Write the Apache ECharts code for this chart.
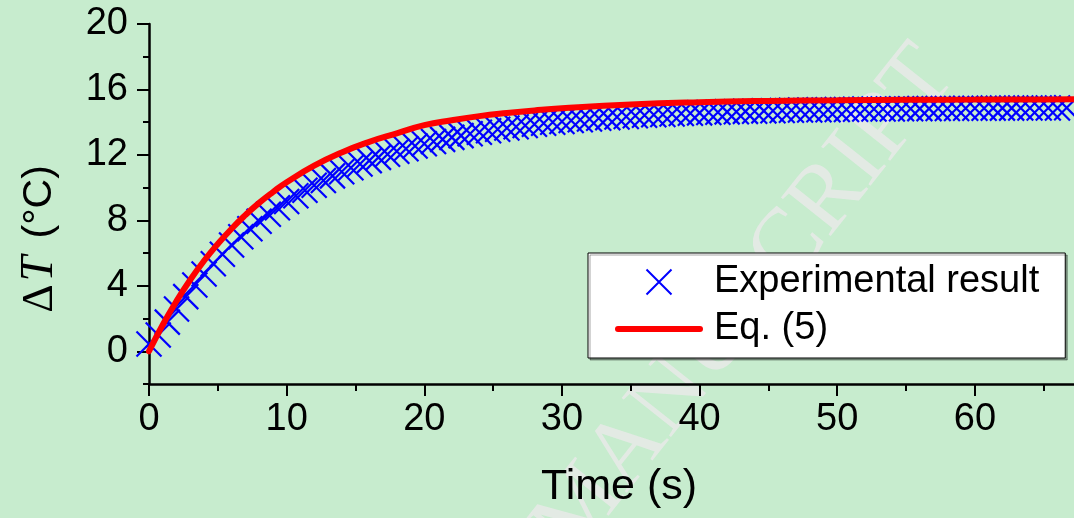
<!DOCTYPE html>
<html>
<head>
<meta charset="utf-8">
<script src="https://cdn.jsdelivr.net/npm/echarts@6/dist/echarts.min.js"></script>
<style>
  html, body { margin: 0; padding: 0; background: #c7ecce; }
  #chart { width: 1074px; height: 518px; }
</style>
</head>
<body>
<div id="chart"></div>
<script>
// Measured temperature rise (ΔT, °C) against time (s)
const timeSec = [
  0, 0.67, 1.33, 2, 2.67, 3.33, 4, 4.67, 5.33, 6, 6.67, 7.33, 8, 8.67, 9.33, 10,
  10.67, 11.33, 12, 12.67, 13.33, 14, 14.67, 15.33, 16, 16.67, 17.33, 18, 18.67, 19.33, 20,
  20.67, 21.33, 22, 22.67, 23.33, 24, 24.67, 25.33, 26, 26.67, 27.33, 28, 28.67, 29.33, 30,
  30.67, 31.33, 32, 32.67, 33.33, 34, 34.67, 35.33, 36, 36.67, 37.33, 38, 38.67, 39.33, 40,
  40.67, 41.33, 42, 42.67, 43.33, 44, 44.67, 45.33, 46, 46.67, 47.33, 48, 48.67, 49.33, 50,
  50.67, 51.33, 52, 52.67, 53.33, 54, 54.67, 55.33, 56, 56.67, 57.33, 58, 58.67, 59.33, 60,
  60.67, 61.33, 62, 62.67, 63.33, 64, 64.67, 65.33, 66, 66.67, 67.33
];
const measuredDeltaT = [
  0.45, 1.00, 1.78, 2.58, 3.34, 4.05, 4.72, 5.35, 5.93, 6.49, 7.00, 7.49, 7.95, 8.37, 8.77, 9.15,
  9.50, 9.84, 10.15, 10.44, 10.72, 10.97, 11.21, 11.44, 11.65, 11.85, 12.04, 12.22, 12.38, 12.54, 12.68,
  12.82, 12.95, 13.07, 13.18, 13.29, 13.39, 13.48, 13.57, 13.65, 13.72, 13.80, 13.87, 13.93, 13.99, 14.04,
  14.10, 14.15, 14.19, 14.24, 14.28, 14.32, 14.35, 14.39, 14.42, 14.45, 14.47, 14.50, 14.53, 14.55, 14.57,
  14.59, 14.61, 14.63, 14.64, 14.66, 14.67, 14.69, 14.70, 14.71, 14.73, 14.74, 14.75, 14.76, 14.76, 14.77,
  14.78, 14.79, 14.80, 14.80, 14.81, 14.81, 14.82, 14.82, 14.83, 14.83, 14.84, 14.84, 14.84, 14.85, 14.85,
  14.85, 14.86, 14.86, 14.86, 14.87, 14.87, 14.87, 14.87, 14.87, 14.88, 14.88
];

// Model curve, Eq. (5)
const eqTime = [0, 1, 2, 3, 4, 5, 6, 7, 8, 9, 10, 12, 14, 16, 18, 20, 22, 24, 26, 28, 30, 35, 40, 45, 50, 55, 60, 65, 70];
const eqDeltaT = [0, 1.62, 3.07, 4.37, 5.53, 6.56, 7.49, 8.32, 9.07, 9.73, 10.33, 11.34, 12.15, 12.80, 13.32,
  13.82, 14.12, 14.37, 14.56, 14.72, 14.85, 15.08, 15.22, 15.30, 15.34, 15.37, 15.38, 15.39, 15.40];

// Axis ticks
const xTicks = [0, 10, 20, 30, 40, 50, 60];
const xMinorTicks = [5, 15, 25, 35, 45, 55, 65];
const yTicks = [0, 4, 8, 12, 16, 20];
const yMinorTicks = [-2, 2, 6, 10, 14, 18];

const SANS = "'Liberation Sans', Arial, Helvetica, sans-serif";
const SERIF = "'Liberation Serif', 'Times New Roman', serif";
const BG = '#c7ecce';

const measuredPoints = timeSec.map((t, i) => [t, measuredDeltaT[i]]);
const eqPoints = eqTime.map((t, i) => [t, eqDeltaT[i]]);

const X_MIN = 0, X_MAX = 67.2, Y_MIN = -2, Y_MAX = 20;

// X-shaped marker and a thick round-capped bar for the legend line
const CROSS = 'path://M0,0L25,25M25,0L0,25';
const THICK_LINE = 'path://M3,0H85A3,3 0 0 1 85,6H3A3,3 0 0 1 3,0Z';

const chart = echarts.init(document.getElementById('chart'), null, { renderer: 'canvas' });

const baseX = {
  type: 'value', min: X_MIN, max: X_MAX, position: 'bottom', splitLine: { show: false }
};
const baseY = {
  type: 'value', min: Y_MIN, max: Y_MAX, position: 'left', splitLine: { show: false }
};

chart.setOption({
  animation: false,
  backgroundColor: BG,
  grid: { left: 149, right: 0, top: 24, bottom: 134, containLabel: false },
  xAxis: [
    Object.assign({}, baseX, {
      axisLine: { onZero: false, lineStyle: { color: '#000', width: 2.5 } },
      axisTick: { customValues: xTicks, length: 12, lineStyle: { color: '#000', width: 2 } },
      axisLabel: { customValues: xTicks, margin: 17, color: '#000', fontFamily: SANS, fontSize: 38 },
      name: 'Time (s)',
      nameLocation: 'middle',
      nameGap: 82,
      nameTextStyle: { color: '#000', fontFamily: SANS, fontSize: 43, padding: [0, 0, 0, 15] }
    }),
    Object.assign({}, baseX, {
      axisLine: { show: false, onZero: false },
      axisTick: { customValues: xMinorTicks, length: 7, lineStyle: { color: '#000', width: 2 } },
      axisLabel: { show: false }
    })
  ],
  yAxis: [
    Object.assign({}, baseY, {
      axisLine: { onZero: false, lineStyle: { color: '#000', width: 2.5 } },
      axisTick: { customValues: yTicks, length: 12, lineStyle: { color: '#000', width: 2 } },
      axisLabel: { customValues: yTicks, margin: 21, color: '#000', fontFamily: SANS, fontSize: 38 }
    }),
    Object.assign({}, baseY, {
      axisLine: { show: false, onZero: false },
      axisTick: { customValues: yMinorTicks, length: 6, lineStyle: { color: '#000', width: 2 } },
      axisLabel: { show: false }
    })
  ],
  legend: {
    orient: 'vertical',
    left: 588,
    top: 253,
    selectedMode: false,
    itemWidth: 88,
    itemHeight: 25,
    itemGap: 9,
    padding: [10, 26, 10, 27],
    backgroundColor: '#ffffff',
    borderColor: '#000000',
    borderWidth: 1,
    borderRadius: 0,
    shadowColor: 'rgba(0,0,0,0.35)',
    shadowBlur: 0,
    shadowOffsetX: 2,
    shadowOffsetY: 2,
    textStyle: { color: '#000', fontFamily: SANS, fontSize: 38, padding: [0, 0, 0, 6] },
    data: [
      { name: 'Experimental result' },
      { name: 'Eq. (5)', icon: THICK_LINE, itemStyle: { color: '#ff0000', borderWidth: 0 } }
    ]
  },
  graphic: [
    {
      type: 'text',
      z: 0,
      silent: true,
      x: 938,
      y: 60,
      rotation: 0.9,
      style: {
        text: 'ACCEPTED MANUSCRIPT',
        fill: 'rgba(234,234,234,0.8)',
        font: '96px ' + SERIF,
        align: 'right',
        verticalAlign: 'middle'
      }
    },
    {
      type: 'text',
      z: 10,
      silent: true,
      x: 40,
      y: 239,
      rotation: Math.PI / 2,
      style: {
        text: '{d|Δ}{t|T}{u| (°C)}',
        align: 'center',
        verticalAlign: 'middle',
        fill: '#000',
        rich: {
          d: { fontFamily: SERIF, fontSize: 44, fill: '#000', padding: [0, 3, 0, 0] },
          t: { fontFamily: SERIF, fontStyle: 'italic', fontSize: 46, fill: '#000', padding: [0, 6, 0, 0] },
          u: { fontFamily: SANS, fontSize: 41, fill: '#000' }
        }
      }
    }
  ],
  series: [
    {
      name: 'Experimental result',
      type: 'scatter',
      xAxisIndex: 0,
      yAxisIndex: 0,
      data: measuredPoints,
      symbol: CROSS,
      symbolSize: 25,
      itemStyle: { color: 'none', borderColor: '#0000ff', borderWidth: 2.2, opacity: 1 },
      emphasis: { disabled: true },
      z: 3
    },
    {
      name: 'Eq. (5)',
      type: 'line',
      xAxisIndex: 0,
      yAxisIndex: 0,
      data: eqPoints,
      smooth: true,
      showSymbol: false,
      symbol: 'none',
      lineStyle: { color: '#ff0000', width: 6, cap: 'round' },
      itemStyle: { color: '#ff0000' },
      emphasis: { disabled: true },
      z: 4
    }
  ]
});
</script>
</body>
</html>
